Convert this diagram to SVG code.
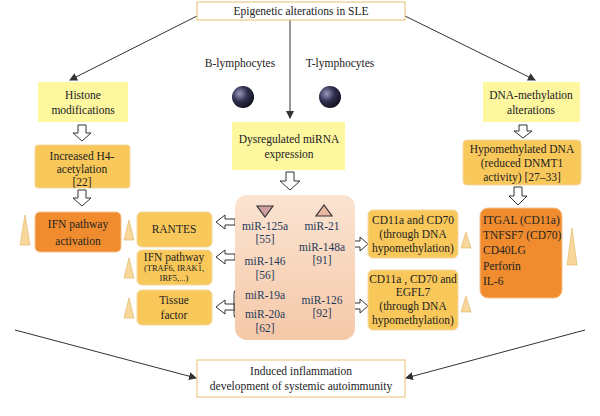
<svg xmlns="http://www.w3.org/2000/svg" width="600" height="416" viewBox="0 0 600 416">
<style>
text{font-family:"Liberation Serif",serif;font-size:11.5px;fill:#222}
.s{font-size:8.5px}
.blue{fill:#1f3a5a}
.y{fill:#fdf7a0}
.g{fill:#f9c85a;stroke:#f3d8a0;stroke-width:1}
.o{fill:#f08c2e;stroke:#f5c08a;stroke-width:1}
.tri{fill:#f8d89a;stroke:#e0b060;stroke-width:0.6}
.ha{fill:#fff;stroke:#333;stroke-width:1}
.ln{stroke:#333;stroke-width:1;fill:none}
</style>
<defs>
<marker id="ah" markerWidth="8" markerHeight="8" refX="7" refY="4" orient="auto"><path d="M0,0 L8,4 L0,8 z" fill="#333"/></marker>
<linearGradient id="pe" x1="0" y1="0" x2="0" y2="1"><stop offset="0" stop-color="#fbe4d2"/><stop offset="1" stop-color="#f5c8a8"/></linearGradient>
<radialGradient id="cell" cx="0.35" cy="0.35" r="0.7"><stop offset="0" stop-color="#9a9ac0"/><stop offset="0.5" stop-color="#303050"/><stop offset="1" stop-color="#101020"/></radialGradient>
</defs>
<rect width="600" height="416" fill="#fff"/>
<g id="connectors">
<path class="ln" d="M197,16 L70,80" marker-end="url(#ah)"/>
<path class="ln" d="M405,16 L535,80" marker-end="url(#ah)"/>
<path class="ln" d="M290,20 L290,118" marker-end="url(#ah)"/>
<path class="ln" d="M15,330 L196,378" marker-end="url(#ah)"/>
<path class="ln" d="M585,330 L406,378" marker-end="url(#ah)"/>
<path class="ha" d="M78,125 h8 v8 h5 l-9,8 l-9,-8 h5 z"/>
<path class="ha" d="M78,190 h8 v8 h5 l-9,8 l-9,-8 h5 z"/>
<path class="ha" d="M286,172 h8 v9 h6 l-10,9 l-10,-9 h6 z"/>
<path class="ha" d="M519,125 h8 v6 h5 l-9,7 l-9,-7 h5 z"/>
<path class="ha" d="M514,187 h8 v9 h5 l-9,9 l-9,-9 h5 z"/>
<path class="ha" d="M235,225 v-6 h-10 v-4 l-9,7 l9,7 v-4 h10 z"/>
<path class="ha" d="M235,260 v-6 h-10 v-4 l-9,7 l9,7 v-4 h10 z"/>
<path class="ha" d="M235,310 v-6 h-10 v-4 l-9,7 l9,7 v-4 h10 z"/>
<path class="ha" d="M350,241 v6 h10 v4 l8,-7 l-8,-7 v4 h-10 z"/>
<path class="ha" d="M350,303 v6 h10 v4 l8,-7 l-8,-7 v4 h-10 z"/>
<path class="ln" d="M346,226 q3,0 3,3 v20 q0,3 -3,3"/>
<path class="ln" d="M237,290 q-3,0 -3,3 v22 q0,3 3,3"/>
</g>
<g id="top"><rect x="197" y="2" width="208" height="18" fill="#fff" stroke="#e8c070"/><text x="301" y="15" text-anchor="middle">Epigenetic alterations in SLE</text></g>
<g id="cells">
<text x="240" y="67" text-anchor="middle">B-lymphocytes</text>
<text x="340" y="67" text-anchor="middle">T-lymphocytes</text>
<circle cx="243" cy="97" r="11" fill="url(#cell)"/>
<circle cx="330" cy="97" r="11" fill="url(#cell)"/>
</g>
<g id="histone"><rect class="y" x="38" y="82" width="90" height="40"/><text x="83" y="99" text-anchor="middle">Histone</text><text x="83" y="114" text-anchor="middle">modifications</text></g>
<g id="h4"><rect class="g" x="35" y="145" width="95" height="43" rx="3"/><text x="82" y="160" text-anchor="middle">Increased H4-</text><text x="82" y="173" text-anchor="middle">acetylation</text><text x="82" y="186" text-anchor="middle">[22]</text></g>
<g id="ifnact"><rect class="o" x="35" y="212" width="86" height="40" rx="5"/><text x="78" y="228" text-anchor="middle">IFN pathway</text><text x="78" y="245" text-anchor="middle">activation</text><path class="tri" d="M20,245 L25,215 L30,245 z"/></g>
<g id="rantes"><rect class="g" x="137" y="212" width="75" height="35" rx="5"/><text x="174" y="233" text-anchor="middle">RANTES</text><path class="tri" d="M124,240 L129,220 L134,240 z"/></g>
<g id="ifnp"><rect class="g" x="137" y="250" width="75" height="35" rx="5"/><text x="174" y="261" text-anchor="middle">IFN pathway</text><text class="s" x="174" y="271" text-anchor="middle">(TRAF6, IRAK1,</text><text class="s" x="174" y="281" text-anchor="middle">IRF5,...)</text><path class="tri" d="M124,278 L129,258 L134,278 z"/></g>
<g id="tissue"><rect class="g" x="137" y="290" width="75" height="35" rx="5"/><text x="174" y="304" text-anchor="middle">Tissue</text><text x="174" y="319" text-anchor="middle">factor</text><path class="tri" d="M124,318 L129,298 L134,318 z"/></g>
<g id="dysreg"><rect class="y" x="232" y="122" width="113" height="48"/><text x="289" y="143" text-anchor="middle">Dysregulated miRNA</text><text x="289" y="158" text-anchor="middle">expression</text></g>
<g id="mirna"><rect x="235" y="195" width="120" height="145" rx="12" fill="url(#pe)"/>
<path d="M257,206 L273,206 L265,217 z" fill="#d0a0a0" stroke="#333" stroke-width="1.2"/>
<path d="M316,216 L332,216 L324,205 z" fill="#e8b8a0" stroke="#333" stroke-width="1.2"/>
<text class="blue" x="265" y="230" text-anchor="middle">miR-125a</text><text class="blue" x="265" y="243" text-anchor="middle">[55]</text>
<text class="blue" x="265" y="265" text-anchor="middle">miR-146</text><text class="blue" x="265" y="279" text-anchor="middle">[56]</text>
<text class="blue" x="265" y="299" text-anchor="middle">miR-19a</text><text class="blue" x="265" y="318" text-anchor="middle">miR-20a</text><text class="blue" x="265" y="332" text-anchor="middle">[62]</text>
<text class="blue" x="322" y="230" text-anchor="middle">miR-21</text><text class="blue" x="322" y="251" text-anchor="middle">miR-148a</text><text class="blue" x="322" y="264" text-anchor="middle">[91]</text>
<text class="blue" x="322" y="304" text-anchor="middle">miR-126</text><text class="blue" x="322" y="317" text-anchor="middle">[92]</text>
</g>
<g id="cd1"><rect class="g" x="368" y="210" width="90" height="48" rx="5"/><text x="413" y="224" text-anchor="middle">CD11a and CD70</text><text x="413" y="238" text-anchor="middle">(through DNA</text><text x="413" y="252" text-anchor="middle">hypomethylation)</text><path class="tri" d="M461,248 L466,232 L471,248 z"/></g>
<g id="cd2"><rect class="g" x="368" y="270" width="90" height="60" rx="5"/><text x="413" y="283" text-anchor="middle">CD11a , CD70 and</text><text x="413" y="296" text-anchor="middle">EGFL7</text><text x="413" y="310" text-anchor="middle">(through DNA</text><text x="413" y="324" text-anchor="middle">hypomethylation)</text><path class="tri" d="M461,312 L466,296 L471,312 z"/></g>
<g id="dnam"><rect class="y" x="483" y="82" width="97" height="40"/><text x="531" y="99" text-anchor="middle">DNA-methylation</text><text x="531" y="114" text-anchor="middle">alterations</text></g>
<g id="hypo"><rect class="g" x="463" y="140" width="118" height="45" rx="4"/><text x="522" y="153" text-anchor="middle">Hypomethylated DNA</text><text x="522" y="167" text-anchor="middle">(reduced DNMT1</text><text x="522" y="181" text-anchor="middle">activity)   [27–33]</text></g>
<g id="genes"><rect class="o" x="480" y="208" width="82" height="90" rx="8"/>
<text x="483" y="224">ITGAL (CD11a)</text><text x="483" y="239">TNFSF7 (CD70)</text><text x="483" y="254">CD40LG</text><text x="483" y="270">Perforin</text><text x="483" y="285">IL-6</text>
<path class="tri" d="M567,265 L572,228 L577,265 z"/></g>
<g id="bottom"><rect x="197" y="360" width="208" height="37" fill="#fff" stroke="#e8c070"/><text x="301" y="375" text-anchor="middle">Induced inflammation</text><text x="301" y="390" text-anchor="middle">development of systemic autoimmunity</text></g>
</svg>
